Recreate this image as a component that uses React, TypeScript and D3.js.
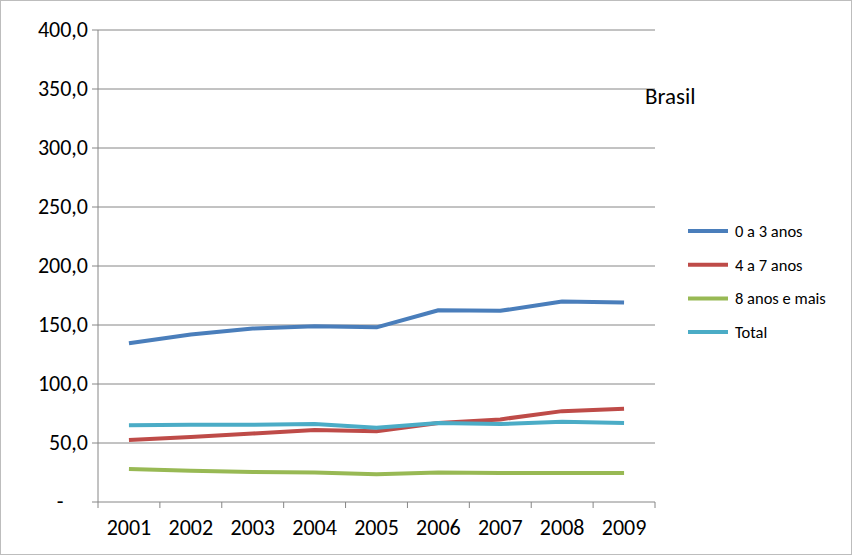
import { useEffect } from 'react';
import * as d3 from 'd3';

const years = ['2001', '2002', '2003', '2004', '2005', '2006', '2007', '2008', '2009'];
const seriesNames = ['0 a 3 anos', '4 a 7 anos', '8 anos e mais', 'Total'];
const seriesColors = ['#4a7ebb', '#be4b48', '#98b954', '#4bacc6'];
const v0a3 = [134.5, 142, 147, 149, 148, 162.5, 162, 170, 169];
const v4a7 = [52.5, 55, 58, 61, 60, 67, 70, 77, 79];
const v8mais = [28, 26.5, 25.5, 25, 23.5, 25, 24.5, 24.5, 24.5];
const vTotal = [65, 65.5, 65.5, 66, 63, 67, 66, 68, 67];
const yTicks = [0, 50, 100, 150, 200, 250, 300, 350, 400];

const W = 852, H = 555;
const left = 98, right = 655, top = 30, bottom = 502;

export default function App() {
  useEffect(() => { document.body.style.margin = '0'; }, []);
  const series = [v0a3, v4a7, v8mais, vTotal];
  const x = d3.scaleBand<string>().domain(years).range([left, right]);
  const y = d3.scaleLinear().domain([0, 400]).range([bottom, top]);
  const line = d3.line<number>().x((_, i) => x(years[i])! + x.bandwidth() / 2).y(d => y(d));
  const fmt = (v: number) => (v === 0 ? '-' : v.toFixed(1).replace('.', ','));
  const font = 'Carlito, "Open Sans", sans-serif';

  return (
    <svg width={W} height={H} style={{ display: 'block', fontFamily: font }}>
      <rect x={0.5} y={0.5} width={W - 1} height={H - 1} fill="#fff" stroke="#bdbdbd" />
      {yTicks.map(t => (
        <g key={t}>
          <line x1={left} x2={right} y1={y(t)} y2={y(t)} stroke="#868686" />
          <line x1={left - 6} x2={left} y1={y(t)} y2={y(t)} stroke="#868686" />
          <text x={t === 0 ? 60 : left - 10} y={y(t) + 7} textAnchor={t === 0 ? 'middle' : 'end'} fontSize={22}>{fmt(t)}</text>
        </g>
      ))}
      <line x1={left} x2={left} y1={top} y2={bottom} stroke="#868686" />
      {years.map((yr, i) => (
        <g key={yr}>
          <line x1={x(yr)!} x2={x(yr)!} y1={bottom} y2={bottom + 6} stroke="#868686" />
          {i === years.length - 1 && <line x1={right} x2={right} y1={bottom} y2={bottom + 6} stroke="#868686" />}
          <text x={x(yr)! + x.bandwidth() / 2} y={bottom + 33} textAnchor="middle" fontSize={22}>{yr}</text>
        </g>
      ))}
      {series.map((s, i) => (
        <path key={i} d={line(s)!} fill="none" stroke={seriesColors[i]} strokeWidth={4} strokeLinejoin="round" />
      ))}
      <text x={645} y={104} fontSize={23}>Brasil</text>
      {seriesNames.map((n, i) => (
        <g key={n} transform={`translate(688,${231 + i * 33.7})`}>
          <line x1={0} x2={40} y1={0} y2={0} stroke={seriesColors[i]} strokeWidth={4} />
          <text x={47} y={6} fontSize={16.5}>{n}</text>
        </g>
      ))}
    </svg>
  );
}
